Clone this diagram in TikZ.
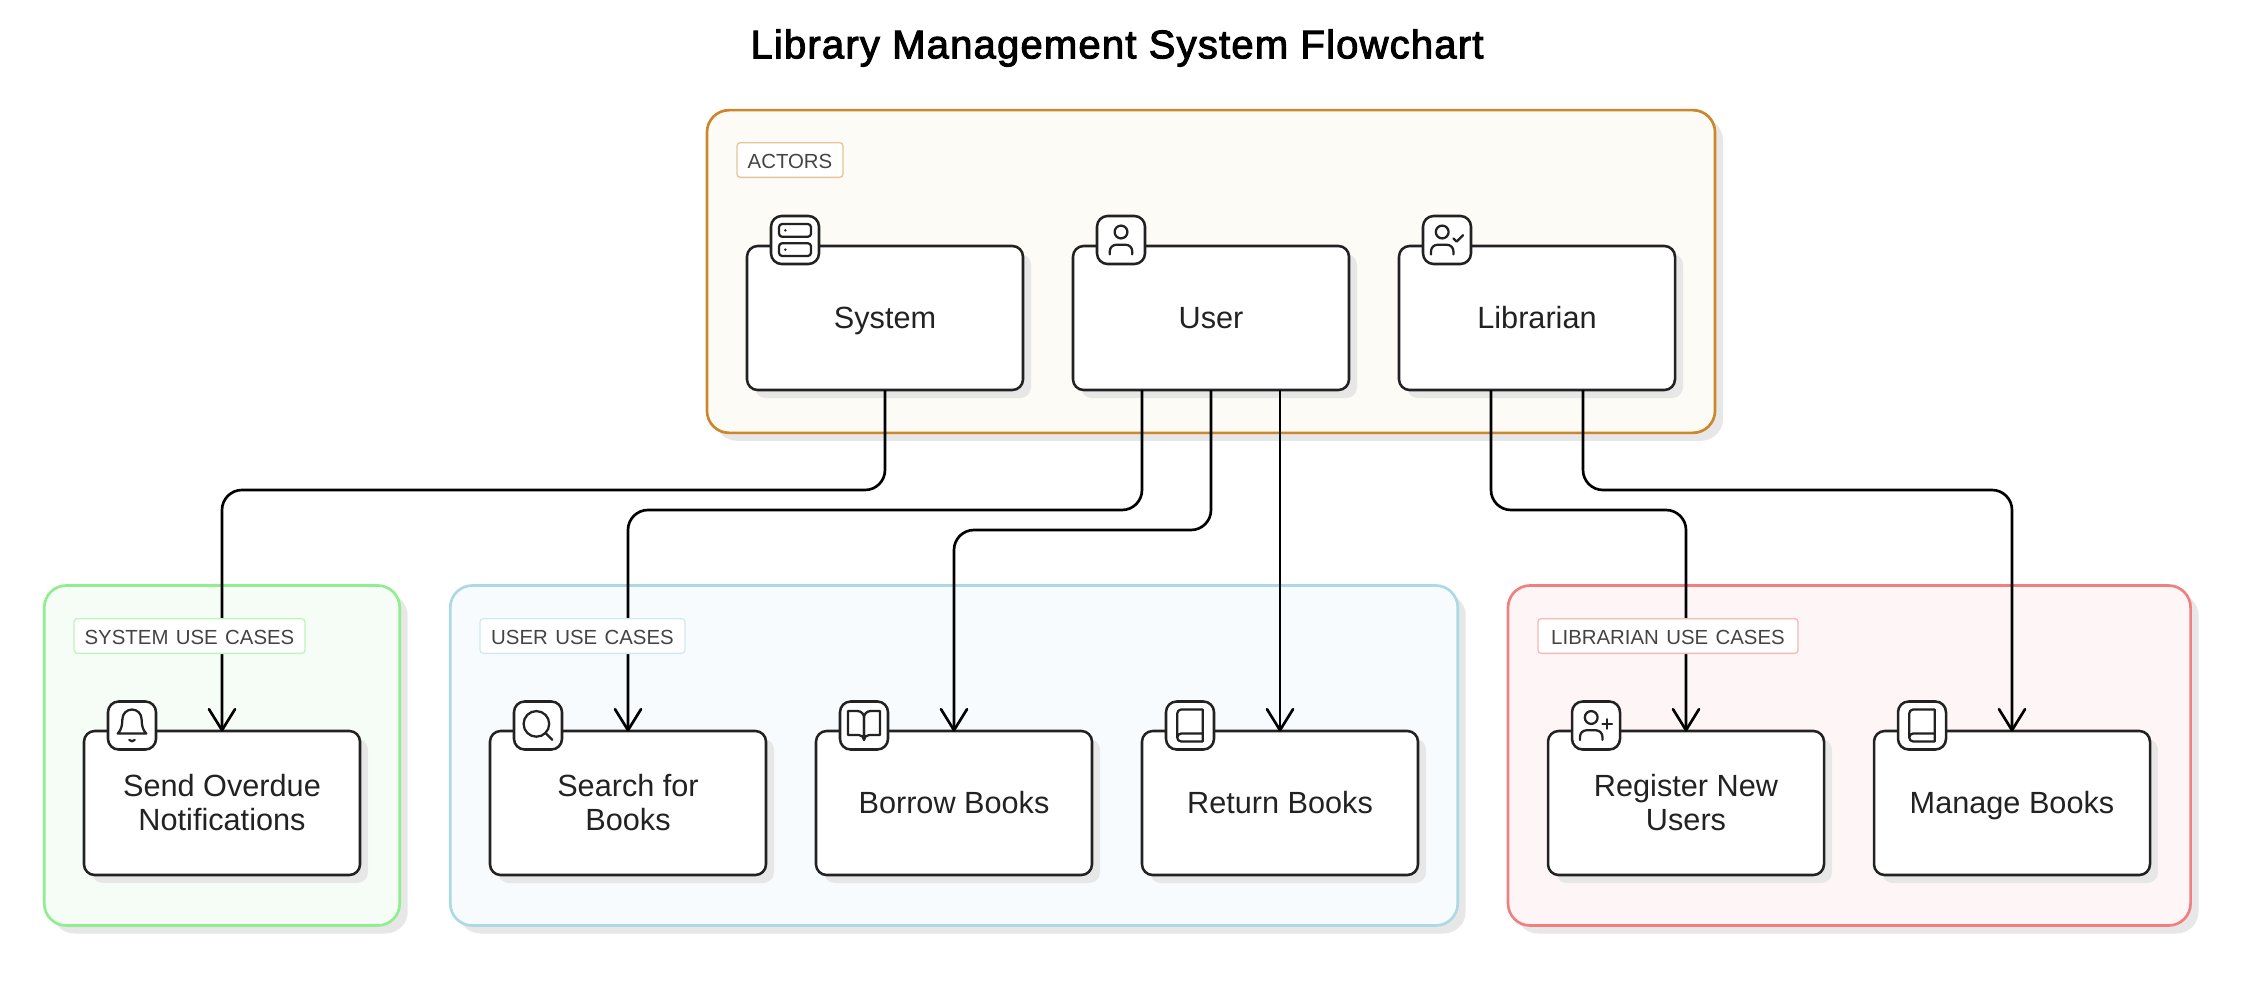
\documentclass[tikz,border=0pt]{standalone}
\usepackage{fontspec}
\setmainfont{Liberation Sans}
\newfontfamily\labelfont[WordSpace=1.3]{Liberation Sans}
\newfontfamily\titlefont[FakeBold=2.5,LetterSpace=3]{Liberation Sans}
\usetikzlibrary{arrows.meta,shadows}
\definecolor{ink}{HTML}{222222}
\definecolor{labink}{HTML}{444444}
\definecolor{shade}{HTML}{E7E7E7}
\definecolor{actS}{HTML}{CC872D}\definecolor{actF}{HTML}{FCFBF6}\definecolor{actL}{HTML}{E6C498}
\definecolor{sysS}{HTML}{90EE90}\definecolor{sysF}{HTML}{F6FDF6}\definecolor{sysL}{HTML}{BDF5BD}
\definecolor{usrS}{HTML}{ADD8E6}\definecolor{usrF}{HTML}{F7FBFE}\definecolor{usrL}{HTML}{D2E9F1}
\definecolor{libS}{HTML}{F08080}\definecolor{libF}{HTML}{FEF5F6}\definecolor{libL}{HTML}{F8B8B8}
\newcommand{\tstrut}{\rule[-4pt]{0pt}{24pt}}
\pgfdeclarelayer{grp}\pgfdeclarelayer{conn}\pgfdeclarelayer{lab}
\pgfsetlayers{grp,main,conn,lab}
\pgfdeclarearrow{
  name=OpenVee,
  setup code={\pgfarrowssettipend{0.6pt}\pgfarrowssetlineend{-0.5pt}\pgfarrowssetbackend{-15.75pt}\pgfarrowssetvisualbackend{-1pt}},
  drawing code={
    \pgfsetdash{}{0pt}\pgfsetlinewidth{2pt}\pgfsetroundcap\pgfsetroundjoin
    \pgfpathmoveto{\pgfpoint{-15.75pt}{9.75pt}}
    \pgfpathlineto{\pgfpoint{0pt}{0pt}}
    \pgfpathlineto{\pgfpoint{-15.75pt}{-9.75pt}}
    \pgfusepathqstroke},
}
\tikzset{
  shadowed/.style={drop shadow={shadow xshift=6pt,shadow yshift=-6pt,fill=shade,opacity=1}},
  group/.style={draw=#1S,fill=#1F,line width=2pt,rounded corners=16.5pt,outer sep=0pt,shadowed},
  boxnode/.style={draw=ink,fill=white,line width=1.9pt,rounded corners=8pt,outer sep=0pt,inner sep=0pt,
    minimum width=207pt,minimum height=108pt,align=center,text=ink,
    font=\fontsize{23pt}{25.5pt}\selectfont,shadowed},
  iconnode/.style={draw=ink,fill=white,line width=1.9pt,rounded corners=8pt,outer sep=0pt,inner sep=0pt,
    minimum width=36pt,minimum height=36pt},
  grouplabel/.style={draw=#1L,fill=white,line width=1pt,rounded corners=2.5pt,outer sep=0pt,inner sep=0pt,
    minimum height=26pt,text height=13pt,text depth=0pt,text=labink,font=\labelfont\fontsize{15.3pt}{18pt}\selectfont},
  conn/.style={draw=black,line width=2pt,rounded corners=15pt,-OpenVee},
  glyph/.style={x=1.2pt,y=-1.2pt,shift={(-12,-12)},draw=ink,line width=1.7pt,line cap=round,line join=round}
}
\newcommand{\gserver}{%
  \draw[rounded corners=2.4pt] (2,2) rectangle (22,10);
  \draw[rounded corners=2.4pt] (2,14) rectangle (22,22);
  \fill[ink] (6,6) circle[radius=1pt];
  \fill[ink] (6,18) circle[radius=1pt];}
\newcommand{\guser}{%
  \draw (12,7) circle[radius=4.8pt];
  \draw[rounded corners=4.8pt] (19,21) -- (19,15) -- (5,15) -- (5,21);}
\newcommand{\gusercheck}{%
  \draw (9,7) circle[radius=4.8pt];
  \draw[rounded corners=4.8pt] (16,21) -- (16,15) -- (2,15) -- (2,21);
  \draw (16,11) -- (18,13) -- (22,9);}
\newcommand{\guserplus}{%
  \draw (9,7) circle[radius=4.8pt];
  \draw[rounded corners=4.8pt] (16,21) -- (16,15) -- (2,15) -- (2,21);
  \draw (19,8) -- (19,14);
  \draw (22,11) -- (16,11);}
\newcommand{\gbell}{%
  \draw (6,8) .. controls (6,4.686) and (8.686,2) .. (12,2)
    .. controls (15.314,2) and (18,4.686) .. (18,8)
    .. controls (18,15) and (21,17) .. (21,17) -- (3,17)
    .. controls (3,17) and (6,15) .. (6,8) -- cycle;
  \draw (10.3,21) .. controls (11,22.2) and (13,22.2) .. (13.7,21);}
\newcommand{\gsearch}{%
  \draw (11,11) circle[radius=9.6pt];
  \draw (21,21) -- (16.7,16.7);}
\newcommand{\gbookopen}{%
  \draw (2,3) -- (8,3) .. controls (10.21,3) and (12,4.79) .. (12,7) -- (12,21)
    .. controls (12,19.34) and (10.66,18) .. (9,18) -- (2,18) -- cycle;
  \draw (22,3) -- (16,3) .. controls (13.79,3) and (12,4.79) .. (12,7) -- (12,21)
    .. controls (12,19.34) and (13.34,18) .. (15,18) -- (22,18) -- cycle;}
\newcommand{\gbook}{%
  \draw (4,19.5) -- (4,4.5) .. controls (4,3.12) and (5.12,2) .. (6.5,2) -- (20,2) -- (20,22) -- (6.5,22)
    .. controls (5.12,22) and (4,20.88) .. (4,19.5)
    .. controls (4,18.12) and (5.12,17) .. (6.5,17) -- (20,17);}
\begin{document}
\begin{tikzpicture}[x=0.75pt,y=-0.75pt]
\path[use as bounding box] (0,0) rectangle (2246,1006);
\node[font=\titlefont\fontsize{30pt}{34pt}\selectfont,text=black] (title) at (1117,48) {Library Management System Flowchart};

% groups
\begin{pgfonlayer}{grp}
\node[group=act,minimum width=756pt,minimum height=242pt] (gact) at (1211,271.5) {};
\node[group=sys,minimum width=266.6pt,minimum height=255pt] (gsys) at (222,755.5) {};
\node[group=usr,minimum width=755.6pt,minimum height=255pt] (gusr) at (954,755.5) {};
\node[group=lib,minimum width=511.9pt,minimum height=255pt] (glib) at (1849.3,755.5) {};
\end{pgfonlayer}

% group labels
\begin{pgfonlayer}{lab}
\node[grouplabel=act,minimum width=79.5pt] (lact) at (790,160) {ACTORS};
\node[grouplabel=sys,minimum width=173.25pt] (lsys) at (189.5,636) {SYSTEM USE CASES};
\node[grouplabel=usr,minimum width=153.75pt] (lusr) at (582.5,636) {USER USE CASES};
\node[grouplabel=lib,minimum width=195pt] (llib) at (1668,636) {LIBRARIAN USE CASES};
\end{pgfonlayer}

% boxes
\node[boxnode] (system) at (885,318) {System\tstrut};
\node[boxnode] (user) at (1211,318) {User\tstrut};
\node[boxnode] (librarian) at (1537,318) {Librarian\tstrut};
\node[boxnode] (overdue) at (222,803) {Send Overdue\tstrut\\Notifications\tstrut};
\node[boxnode] (search) at (628,803) {Search for\tstrut\\Books\tstrut};
\node[boxnode] (borrow) at (954,803) {Borrow Books\tstrut};
\node[boxnode] (return) at (1280,803) {Return Books\tstrut};
\node[boxnode] (register) at (1686,803) {Register New\tstrut\\Users\tstrut};
\node[boxnode] (manage) at (2012,803) {Manage Books\tstrut};

% icons
\node[iconnode] (isystem) at (795,240) {};
\node[iconnode] (iuser) at (1121,240) {};
\node[iconnode] (ilibrarian) at (1447,240) {};
\node[iconnode] (ioverdue) at (132,725.5) {};
\node[iconnode] (isearch) at (538,725.5) {};
\node[iconnode] (iborrow) at (864,725.5) {};
\node[iconnode] (ireturn) at (1190,725.5) {};
\node[iconnode] (iregister) at (1596,725.5) {};
\node[iconnode] (imanage) at (1922,725.5) {};
\begin{scope}[shift={(isystem.center)},glyph]\gserver\end{scope}
\begin{scope}[shift={(iuser.center)},glyph]\guser\end{scope}
\begin{scope}[shift={(ilibrarian.center)},glyph]\gusercheck\end{scope}
\begin{scope}[shift={(ioverdue.center)},glyph]\gbell\end{scope}
\begin{scope}[shift={(isearch.center)},glyph]\gsearch\end{scope}
\begin{scope}[shift={(iborrow.center)},glyph]\gbookopen\end{scope}
\begin{scope}[shift={(ireturn.center)},glyph]\gbook\end{scope}
\begin{scope}[shift={(iregister.center)},glyph]\guserplus\end{scope}
\begin{scope}[shift={(imanage.center)},glyph]\gbook\end{scope}

% connectors
\begin{pgfonlayer}{conn}
\coordinate (u1) at ([xshift=-51.75pt]user.south);
\coordinate (u3) at ([xshift=51.75pt]user.south);
\coordinate (l1) at ([xshift=-34.5pt]librarian.south);
\coordinate (l2) at ([xshift=34.5pt]librarian.south);
\draw[conn] (system.south) -- (system.south |- 0,490) -- (overdue.north |- 0,490) -- (overdue.north);
\draw[conn] (u1) -- (u1 |- 0,510) -- (search.north |- 0,510) -- (search.north);
\draw[conn] (user.south) -- (user.south |- 0,530) -- (borrow.north |- 0,530) -- (borrow.north);
\draw[conn] (u3) -- (return.north);
\draw[conn] (l1) -- (l1 |- 0,510) -- (register.north |- 0,510) -- (register.north);
\draw[conn] (l2) -- (l2 |- 0,490) -- (manage.north |- 0,490) -- (manage.north);
\end{pgfonlayer}
\end{tikzpicture}
\end{document}
